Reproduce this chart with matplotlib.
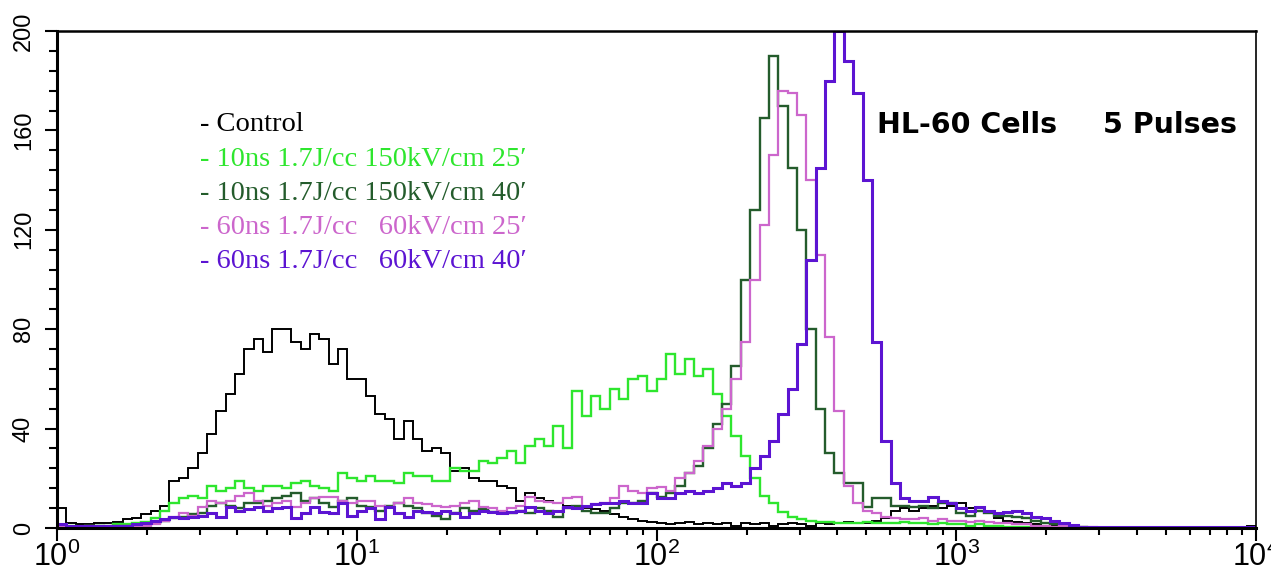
"""Flow-cytometry style histogram overlay: HL-60 cells, 5 pulses."""

import matplotlib

matplotlib.use("Agg")
import matplotlib.pyplot as plt
import numpy as np
from matplotlib.ticker import FixedLocator, LogLocator, MultipleLocator, NullFormatter


# channel counts, 32 channels per decade from 10^0 to 10^4
CONTROL = [
    8, 2, 1.5, 1.5, 2, 2, 2.5, 3.5, 4, 5.5, 7, 9, 19, 20, 24, 30,
    38, 47, 54, 62, 72, 76, 71, 80, 80, 75, 72, 78, 76, 66, 72, 60,
    60, 53, 46, 44, 36, 43, 36, 31, 32, 30, 23, 24, 20, 19, 19, 17,
    16, 11, 14, 12, 11, 10, 9, 8.5, 8, 7.5, 7, 5.5, 4.5, 3.5, 3, 2.5,
    2, 1.5, 2, 2.5, 1.5, 2, 1.5, 2, 1, 2, 1.5, 2, 1, 1.5, 2, 1.5,
    1, 2, 1.5, 2, 2.5, 2, 2, 3, 4, 7, 8, 7, 8, 9, 8, 9,
    10, 8, 7, 6, 4, 3, 2.5, 2, 1.5, 1, 1, 0.5, 0.5, 0.3, 0.3, 0.3,
    0.3, 0.2, 0.2, 0.2, 0.2, 0.2, 0.2, 0.2, 0.2, 0.2, 0.2, 0.2, 0.2, 0.2, 0.2, 1,
]
GREEN_25 = [
    1, 1, 0.5, 1, 1, 1, 1.5, 1.5, 2, 2.5, 4, 7, 10, 12, 13, 12,
    17, 15, 16, 19, 16, 15, 17, 17, 16, 18, 19, 17, 16, 15, 22, 20,
    19, 21, 19, 19, 18, 22, 21, 21, 19, 19, 24, 23, 23, 27, 26, 28,
    31, 26, 33, 36, 33, 41, 32, 55, 45, 53, 48, 56, 52, 60, 61, 55,
    60, 70, 62, 68, 61, 64, 54, 45, 37, 29, 20, 13, 10, 6.5, 4.5, 3.5,
    3, 2.5, 2.5, 2, 2, 2, 2.5, 2, 2, 2, 2.5, 2, 2, 1.5, 2, 1.5,
    1.5, 1, 1.5, 1, 1, 0.5, 0.5, 0.5, 0.3, 0, 0, 0, 0, 0, 0, 0,
    0, 0, 0, 0, 0, 0, 0, 0, 0, 0, 0, 0, 0, 0, 0, 0,
]
GREEN_40 = [
    1, 0.5, 0.5, 0.5, 1, 0.5, 1, 1, 1, 1.5, 2, 3, 4, 4.5, 5.5, 6,
    9, 10, 9, 8, 10, 10, 11, 12, 13, 14, 11, 12, 10, 8.5, 11, 12,
    9, 8.5, 7, 9, 10, 9, 8, 6, 5, 3.5, 6, 8, 7, 7.5, 6.5, 6,
    6, 7, 6, 8, 7, 4.5, 8, 9, 7, 6, 6, 8, 10, 10, 11, 14,
    12.5, 14, 17, 22, 25, 32, 42, 50, 65, 100, 128, 165, 190, 170, 145, 120,
    80, 48, 30, 22, 18, 18, 8.5, 12, 12, 9, 9, 8.5, 9, 8, 10, 10,
    6, 5, 7, 6, 5, 5, 4.5, 4, 3, 2, 1.5, 1, 0.5, 0.3, 0.2, 0.2,
    0.2, 0.2, 0.2, 0.2, 0, 0, 0, 0, 0, 0, 0, 0, 0, 0, 0, 0,
]
PINK_25 = [
    1, 0.5, 0.5, 1, 0.5, 1, 1, 1, 0.5, 1, 1.5, 3, 4.5, 6, 5, 8.5,
    11, 10, 11, 13, 14, 11, 9, 10, 11, 8.5, 10, 12, 12.5, 12.5, 11, 10,
    11, 11, 9, 8.5, 10, 12, 10, 9.5, 9, 8.5, 9, 10, 11, 8.5, 8, 7,
    8, 9, 12.5, 11, 10.5, 10, 12, 12.5, 8.5, 9.5, 10, 12, 17, 15, 14, 16,
    16.5, 15, 20, 22, 27, 33, 40, 48, 60, 75, 100, 122, 150, 176, 175, 166,
    140, 110, 77, 47, 17, 10, 7, 6, 4.5, 4, 3.5, 3.5, 4, 3, 3.5, 3,
    3, 2.5, 3, 2.5, 2, 2, 1.5, 1.5, 1, 1, 0.5, 1, 0.5, 0.5, 0.3, 0.2,
    0.2, 0, 0, 0, 0, 0, 0, 0, 0, 0, 0, 0, 0, 0, 0, 0,
]
PURPLE_40 = [
    1.5, 1, 1, 1, 1, 1, 1, 1, 1.5, 2, 3, 3.5, 4.5, 4, 4.5, 5,
    6, 4.5, 8.5, 7, 7.5, 8.5, 7, 8, 8.5, 4, 6, 8.5, 6.5, 6, 10, 5,
    7, 8, 3.5, 8.5, 6, 4.5, 7, 6.5, 6, 7, 6, 4.5, 6, 7, 6.5, 6,
    6.5, 7, 8.5, 7, 6, 7, 8.5, 8, 9, 9.5, 10, 10, 11, 10, 10, 14,
    12, 12, 14, 15, 14, 15, 16, 18, 17, 18, 24, 29, 35, 46, 56, 74,
    108, 145, 180, 200, 188, 175, 140, 75, 35, 18, 12, 11, 11, 12.5, 11, 10,
    8, 7, 8.5, 7, 6, 6.5, 7, 6, 4.5, 4, 3, 2, 1.2, 0.5, 0.5, 0.5,
    0.5, 0.5, 0.5, 0.5, 0.5, 0.5, 0.5, 0.5, 0.5, 0.5, 0.5, 0.5, 0.5, 0.5, 0.5, 0.5,
]

LEGEND_LABELS = [
    "- Control",
    "- 10ns 1.7J/cc 150kV/cm 25\u2032",
    "- 10ns 1.7J/cc 150kV/cm 40\u2032",
    "- 60ns 1.7J/cc   60kV/cm 25\u2032",
    "- 60ns 1.7J/cc   60kV/cm 40\u2032",
]
Y_TICKS = [0, 40, 80, 120, 160, 200]
X_TICKS = [1, 10, 100, 1000, 10000]
X_TICK_LABELS = [r"$\mathregular{10^{%d}}$" % k for k in range(5)]

COLORS = ["#000000", "#2ee62e", "#245c2c", "#cc66cc", "#5c14d2"]
LINE_WIDTHS = [1.4, 1.7, 1.7, 1.6, 2.2]

W, H = 1271, 573

plt.rcParams["font.family"] = ["Liberation Sans", "DejaVu Sans"]
plt.rcParams["mathtext.fontset"] = "custom"
plt.rcParams["mathtext.rm"] = "Liberation Sans"


def fig_xy(x, y):
    return x / W, 1 - y / H


fig = plt.figure(figsize=(W / 100, H / 100), dpi=100)
ax = fig.add_axes([57 / W, 1 - 528 / H, (1256 - 57) / W, (528 - 31) / H])

series = [CONTROL, GREEN_25, GREEN_40, PINK_25, PURPLE_40]
edges = np.logspace(0, 4, len(CONTROL) + 1)
for values, color, lw in zip(series, COLORS, LINE_WIDTHS):
    ax.stairs(values, edges, baseline=None, color=color, linewidth=lw)

ax.set_xscale("log")
ax.set_xlim(1, 1e4)
ax.set_ylim(0, 200)

ax.xaxis.set_major_locator(FixedLocator(X_TICKS))
ax.set_xticklabels(X_TICK_LABELS)
ax.xaxis.set_minor_locator(LogLocator(base=10, subs=np.arange(2, 10)))
ax.xaxis.set_minor_formatter(NullFormatter())
ax.set_yticks(Y_TICKS)
ax.yaxis.set_minor_locator(MultipleLocator(8))

ax.tick_params(axis="x", which="major", direction="out", length=9, width=1.5, pad=1, labelsize=22)
ax.tick_params(axis="x", which="minor", direction="out", length=5, width=1.5)
ax.tick_params(axis="y", which="major", direction="out", length=9, width=1.5, pad=7,
               labelsize=17, labelrotation=90)
ax.tick_params(axis="y", which="minor", direction="out", length=6, width=1.5)
for lab in ax.get_yticklabels():
    lab.set_verticalalignment("center")

ax.spines["left"].set_linewidth(2.2)
ax.spines["bottom"].set_linewidth(2.2)
ax.spines["top"].set_linewidth(1.8)
ax.spines["right"].set_linewidth(1.2)

baselines = [131, 166, 200, 234, 268]
for label, color, base in zip(LEGEND_LABELS, COLORS, baselines):
    fig.text(*fig_xy(200, base), label, color=color, fontsize=20.5,
             family=["Liberation Serif", "DejaVu Serif"], va="baseline", ha="left")

fig.text(*fig_xy(877, 133), "HL-60 Cells", fontsize=20.5, weight="bold",
         family="DejaVu Sans", va="baseline", ha="left")
fig.text(*fig_xy(1103, 133), "5 Pulses", fontsize=20.5, weight="bold",
         family="DejaVu Sans", va="baseline", ha="left")

fig.savefig("out.png", dpi=100)
